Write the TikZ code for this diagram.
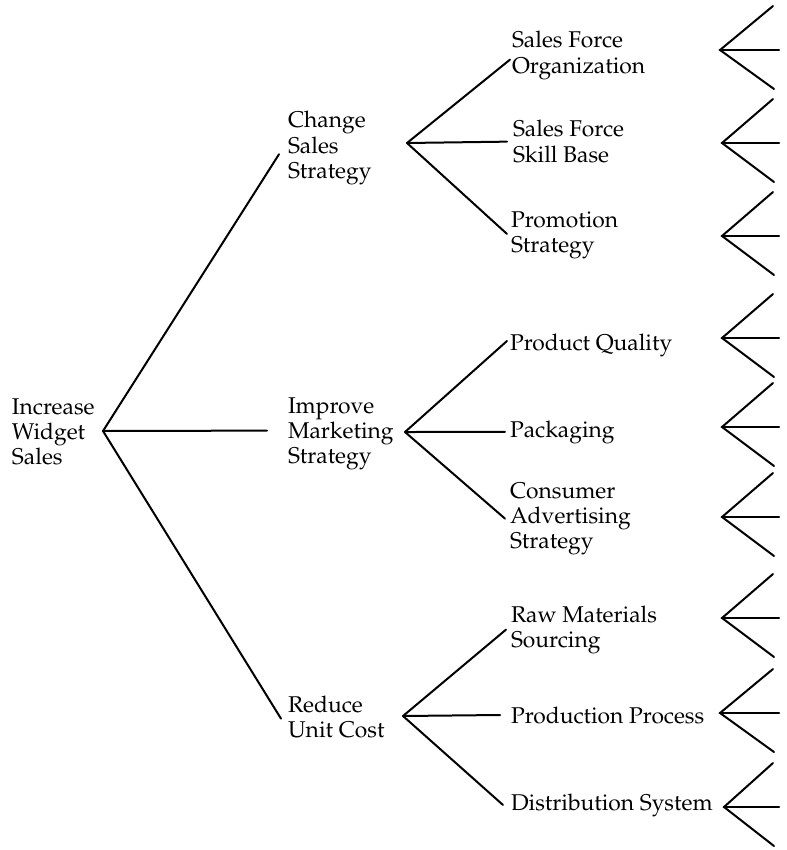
\documentclass[tikz,border=0pt]{standalone}
\usepackage[T1]{fontenc}
\usepackage{mathpazo}
\newcommand{\stk}[1]{\vtop{\halign{##\hfil\cr#1\crcr}}}
\begin{document}
\begin{tikzpicture}[x=1pt,y=-1pt,
  lbl/.style={anchor=base west,inner sep=0pt,outer sep=0pt,font=\fontsize{22.8}{25.3}\selectfont},
  conn/.style={line width=2pt,line cap=round}]
\useasboundingbox (0,0) rectangle (786,850);
% root
\node[lbl] (root) at (12,414) {\stk{Increase\cr Widget\cr Sales}};
% level 1
\node[lbl] (css) at (288,128) {\stk{Change\cr Sales\cr Strategy}};
\node[lbl] (ims) at (288,413) {\stk{Improve\cr Marketing\cr Strategy}};
\node[lbl] (ruc) at (288,712) {\stk{Reduce\cr Unit Cost}};
% level 2
\node[lbl] (sfo) at (512,48) {\stk{Sales Force\cr Organization}};
\node[lbl] (sfs) at (513,137) {\stk{Sales Force\cr Skill Base}};
\node[lbl] (ps)  at (511,227) {\stk{Promotion\cr Strategy}};
\node[lbl] (pq)  at (510,350) {Product Quality};
\node[lbl] (pk)  at (510,437) {Packaging};
\node[lbl] (cas) at (510,498) {\stk{Consumer\cr Advertising\cr Strategy}};
\node[lbl] (rms) at (511,622) {\stk{Raw Materials\cr Sourcing}};
\node[lbl] (pp)  at (511,723) {Production Process};
\node[lbl] (ds)  at (511,810) {Distribution System};
% junctions
\coordinate (R)  at (103,431);
\coordinate (J1) at (407,143);
\coordinate (J2) at (405,432);
\coordinate (J3) at (403,716);
% root connectors
\draw[conn] (R) -- ([shift={(-9,6)}]css.west);
\draw[conn] (R) -- ([shift={(-21,-3)}]ims.west);
\draw[conn] (R) -- ([shift={(-7,2)}]ruc.west);
% level 1 connectors
\draw[conn] (J1) -- ([shift={(-2,4)}]sfo.west);
\draw[conn] (J1) -- ([shift={(-6,0)}]sfs.west);
\draw[conn] (J1) -- ([shift={(-4,-1)}]ps.west);
\draw[conn] (J2) -- ([shift={(-3,-4)}]pq.west);
\draw[conn] (J2) -- ([shift={(-5,0)}]pk.west);
\draw[conn] (J2) -- ([shift={(-5,0)}]cas.west);
\draw[conn] (J3) -- ([shift={(-5,0)}]rms.west);
\draw[conn] (J3) -- ([shift={(-11,0)}]pp.west);
\draw[conn] (J3) -- ([shift={(-8,0)}]ds.west);
% forks
\foreach \n/\vx/\vy in {f1/720/50,f2/722/143,f3/722/236,f4/722/338,f5/722/427,f6/722/517,f7/722/618,f8/720/713,f9/724/807}{
  \coordinate (\n) at (\vx,\vy);
  \coordinate (\n u) at (773,\vy-44);
  \coordinate (\n m) at (779,\vy);
  \coordinate (\n l) at (774,\vy+39);
  \draw[conn] (\n u) -- (\n) -- (\n l);
  \draw[conn] (\n) -- (\n m);
}
\end{tikzpicture}
\end{document}
